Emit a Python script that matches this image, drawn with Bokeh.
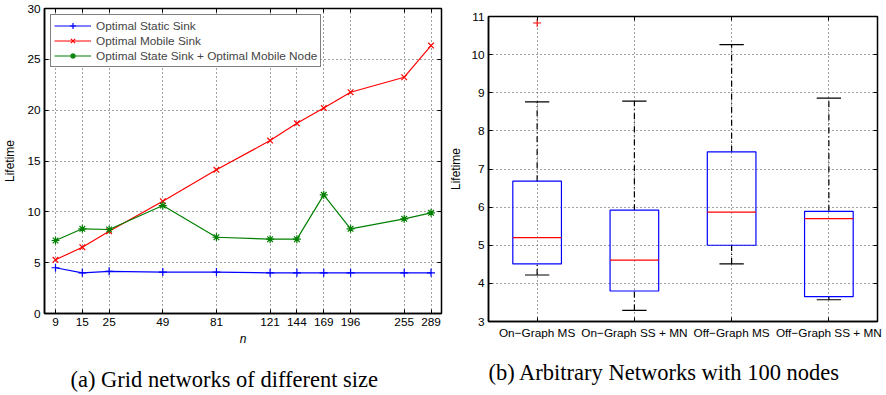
from bokeh.plotting import figure
from bokeh.layouts import row, column
from bokeh.models import (FixedTicker, LinearAxis, Legend, LegendItem, Range1d,
                          CustomLabelingPolicy)
from bokeh.embed import file_html
from bokeh.resources import INLINE

# ---------------- data: (a) grid networks of different size ----------------
n_labels = ["9", "15", "25", "49", "81", "121", "144", "169", "196", "255", "289"]
grid_side = [3, 4, 5, 7, 9, 11, 12, 13, 14, 16, 17]
static_sink = [4.5, 4.0, 4.15, 4.07, 4.07, 4.0, 4.0, 4.0, 4.0, 4.0, 4.0]
mobile_sink = [5.28, 6.52, 8.09, 11.04, 14.13, 17.01, 18.71, 20.22, 21.76, 23.24, 26.35]
static_plus_mobile_node = [7.18, 8.33, 8.26, 10.62, 7.5, 7.31, 7.31, 11.67, 8.33, 9.31, 9.9]
series_names = ["Optimal Static Sink", "Optimal Mobile Sink",
                "Optimal State Sink + Optimal Mobile Node"]
caption_a = "(a) Grid networks of different size"

# ---------------- data: (b) arbitrary networks with 100 nodes ----------------
categories = ["On\u2212Graph MS", "On\u2212Graph SS + MN",
              "Off\u2212Graph MS", "Off\u2212Graph SS + MN"]
q1 = [4.51, 3.80, 5.0, 3.65]
median = [5.2, 4.61, 5.87, 5.70]
q3 = [6.68, 5.92, 7.45, 5.89]
whisker_low = [4.22, 3.29, 4.51, 3.57]
whisker_high = [8.76, 8.78, 10.26, 8.86]
outlier_index = [0]
outlier_val = [10.83]
caption_b = "(b) Arbitrary Networks with 100 nodes"

FONT = "Liberation Sans"
SERIF = "Liberation Serif"
TICK_PX = "11.8px"


def style_axes(p):
    for ax in p.xaxis + p.yaxis:
        ax.major_label_text_font = FONT
        ax.major_label_text_font_size = TICK_PX
        ax.major_label_text_color = "black"
        ax.axis_label_text_font = FONT
        ax.axis_label_text_font_size = "12px"
        ax.axis_label_text_color = "black"
        ax.axis_line_color = "black"
        ax.axis_line_width = 1.5
        ax.major_tick_in = 4
        ax.major_tick_out = 0
        ax.major_tick_line_color = "black"
        ax.minor_tick_line_color = None
        ax.major_label_standoff = 4
    for g in p.xgrid + p.ygrid:
        g.grid_line_color = "#444444"
        g.grid_line_dash = "1 3"
        g.grid_line_width = 1
    p.outline_line_color = "black"
    p.outline_line_width = 1.5
    p.background_fill_color = "white"
    p.border_fill_color = "white"


def style_caption(p, offset):
    t = p.title
    t.align = "left"
    t.offset = offset
    t.standoff = 0
    t.text_font = SERIF
    t.text_font_size = "22.5px"
    t.text_font_style = "normal"
    t.text_color = "black"


def spacer_axis(p, gap):
    # empty axis (no ticks) that only reserves vertical room above the caption
    ax = LinearAxis(ticker=FixedTicker(ticks=[]), axis_label=" ")
    ax.axis_label_standoff = gap
    ax.axis_label_text_font_size = "1px"
    ax.axis_line_color = None
    ax.major_tick_line_color = None
    ax.minor_tick_line_color = None
    p.add_layout(ax, "below")


def mirror_axis(p, ticker, side):
    ax = LinearAxis(ticker=ticker, axis_label=None)
    ax.major_label_policy = CustomLabelingPolicy(
        code="for (const i of Array.from(indices)) { indices.unset(i) }")
    ax.major_label_text_font_size = "1px"
    ax.major_label_standoff = 0
    ax.axis_label_standoff = 0
    ax.axis_line_color = None
    ax.major_tick_in = 4
    ax.major_tick_out = 0
    ax.major_tick_line_color = "black"
    ax.minor_tick_line_color = None
    p.add_layout(ax, side)


# ---------------- left figure ----------------
p1 = figure(width=446, height=395, output_backend="svg", toolbar_location=None,
            title=caption_a, title_location="below",
            x_range=Range1d(2.59, 17.39), y_range=Range1d(0, 30),
            min_border_left=43, min_border_right=5, min_border_top=8,
            min_border_bottom=82)
xt = FixedTicker(ticks=grid_side)
yt1 = FixedTicker(ticks=[0, 5, 10, 15, 20, 25, 30])
p1.xaxis.ticker = xt
p1.yaxis.ticker = yt1
p1.xaxis.major_label_overrides = {s: lab for s, lab in zip(grid_side, n_labels)}
p1.xaxis.axis_label = "n"
p1.yaxis.axis_label = "Lifetime"
p1.xaxis.axis_label_text_font_style = "italic"
p1.yaxis.axis_label_text_font_style = "normal"
p1.xaxis.axis_label_standoff = 3
p1.yaxis.axis_label_standoff = 7
style_axes(p1)
style_caption(p1, 26)
mirror_axis(p1, xt, "above")
mirror_axis(p1, yt1, "right")
spacer_axis(p1, 12)

colors = ["#0000ff", "#ff0000", "#008000"]
markers = ["cross", "x", "asterisk"]
items = []
for vals, name, c, m in zip([static_sink, mobile_sink, static_plus_mobile_node],
                            series_names, colors, markers):
    lr = p1.line(grid_side, vals, line_color=c, line_width=1.2)
    mr = p1.scatter(grid_side, vals, marker=m, size=8, line_color=c, line_width=1.2,
                    fill_color=c)
    items.append(LegendItem(label=name, renderers=[lr, mr]))

legend = Legend(items=items, location="top_left", margin=6, padding=3, spacing=0,
                glyph_width=37, glyph_height=15, label_height=15, label_standoff=5,
                label_text_font=FONT, label_text_font_size="11.8px",
                border_line_color="black", border_line_width=1.2,
                background_fill_color="white", background_fill_alpha=1)
p1.add_layout(legend)

# ---------------- right figure ----------------
xpos = list(range(1, len(categories) + 1))
p2 = figure(width=440, height=395, output_backend="svg", toolbar_location=None,
            title=caption_b, title_location="below",
            x_range=Range1d(0.5, len(categories) + 0.5), y_range=Range1d(3, 11),
            min_border_left=40, min_border_right=9, min_border_top=16,
            min_border_bottom=74)
xt2 = FixedTicker(ticks=xpos)
yt2 = FixedTicker(ticks=list(range(3, 12)))
p2.xaxis.ticker = xt2
p2.yaxis.ticker = yt2
p2.xaxis.major_label_overrides = {x: c for x, c in zip(xpos, categories)}
p2.yaxis.axis_label = "Lifetime"
p2.yaxis.axis_label_text_font_style = "normal"
p2.yaxis.axis_label_standoff = 5
style_axes(p2)
style_caption(p2, 0)
mirror_axis(p2, xt2, "above")
mirror_axis(p2, yt2, "right")
spacer_axis(p2, 11)

# whiskers
p2.segment(x0=xpos, y0=q3, x1=xpos, y1=whisker_high, line_color="black",
           line_width=1.2, line_dash="6 3 1 3")
p2.segment(x0=xpos, y0=whisker_low, x1=xpos, y1=q1, line_color="black",
           line_width=1.2, line_dash="6 3 1 3")
# caps
p2.vbar(x=xpos, top=whisker_high, bottom=whisker_high, width=0.25,
        fill_color=None, line_color="black", line_width=1.2)
p2.vbar(x=xpos, top=whisker_low, bottom=whisker_low, width=0.25,
        fill_color=None, line_color="black", line_width=1.2)
# boxes
p2.vbar(x=xpos, top=q3, bottom=q1, width=0.5, fill_color=None,
        line_color="#0000ff", line_width=1.2)
# medians
p2.vbar(x=xpos, top=median, bottom=median, width=0.5, fill_color=None,
        line_color="#ff0000", line_width=1.2)
# outliers
p2.scatter([xpos[i] for i in outlier_index], outlier_val, marker="cross", size=8,
           line_color="#ff0000", line_width=1)

layout = row(column(p1), column(p2))
open("out.html", "w").write(file_html(layout, INLINE))
